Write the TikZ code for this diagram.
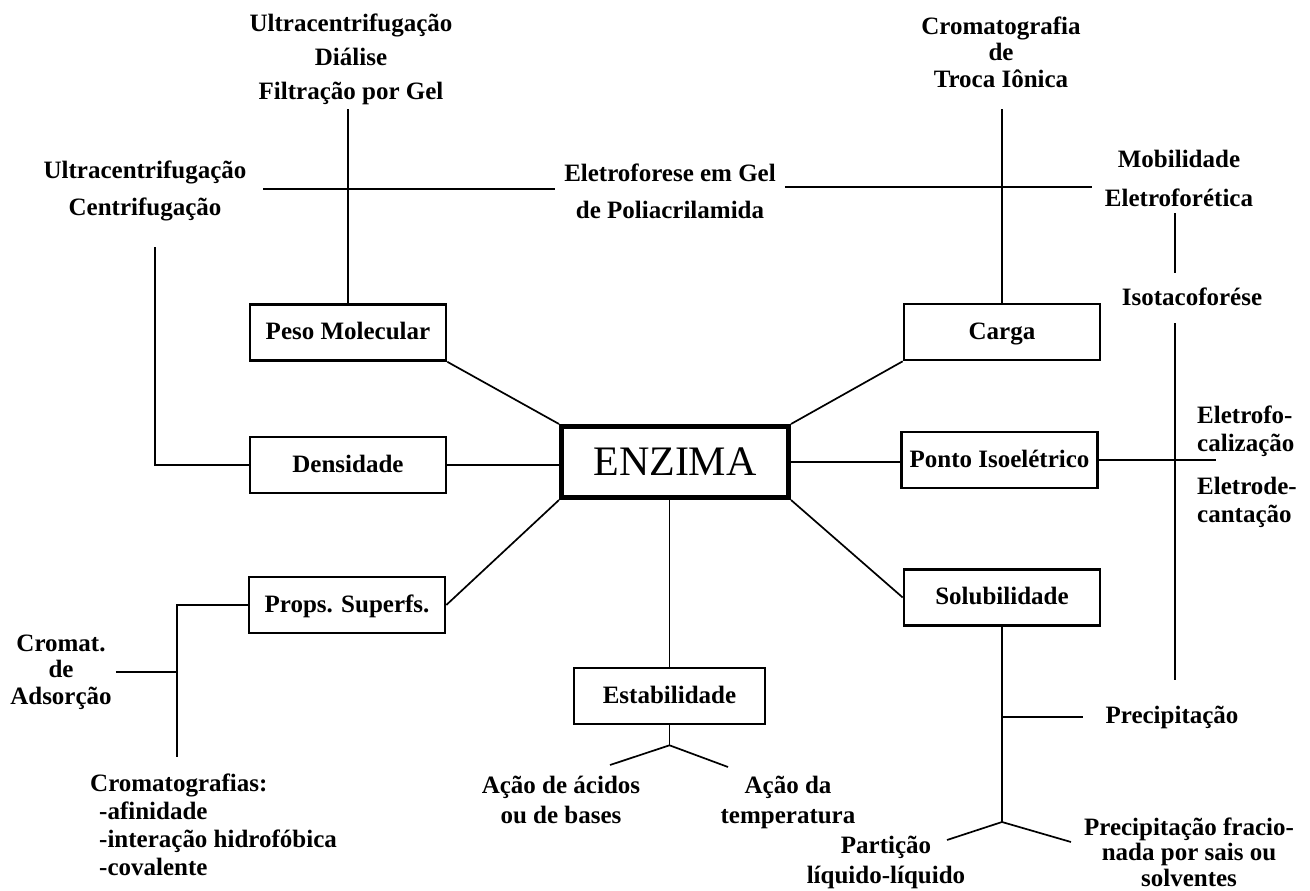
\documentclass[tikz,border=0pt]{standalone}
\usepackage{fontspec}
\setmainfont{Liberation Serif}
\usetikzlibrary{positioning}

\begin{document}
\begin{tikzpicture}
[
    x=1pt, y=-1pt, on grid,
    prop_box/.style={rectangle, draw=black, line width=2.6pt, minimum width=196pt, minimum height=56pt, inner sep=1pt, text height=16pt, text depth=2pt, font=\fontsize{25}{27}\selectfont\bfseries},
    main_box/.style={rectangle, draw=black, line width=5pt, minimum width=227pt, minimum height=71pt, inner sep=1pt, font=\fontsize{42}{44}\selectfont},
    leaf/.style={align=center, inner sep=4pt, font=\fontsize{25}{#1}\selectfont\bfseries},
    leaf/.default=27pt,
    link/.style={line width=1.7pt},
]
    \useasboundingbox (0,0) rectangle (1310,891);

    \node[main_box] (enzima) at (675,462) {ENZIMA} ;
    \node[prop_box] (pm) [above left=129.5pt and 327pt of enzima] {Peso Molecular} ;
    \node[prop_box] (dens) [below left=3pt and 327pt of enzima] {Densidade} ;
    \node[prop_box] (props) [below left=143pt and 328pt of enzima] {Props. Superfs.} ;
    \node[prop_box] (carga) [above right=130pt and 327pt of enzima] {Carga} ;
    \node[prop_box] (ponto) [above right=2pt and 324.5pt of enzima] {Ponto Isoelétrico} ;
    \node[prop_box] (sol) [below right=135.5pt and 327pt of enzima] {Solubilidade} ;
    \node[prop_box, minimum width=191pt] (estab) [below left=234pt and 5.5pt of enzima] {Estabilidade} ;

    \node[leaf=34pt] (pmtop) at (351,59) {Ultracentrifugação\\Diálise\\Filtração por Gel} ;
    \node[leaf=37pt] (ultra) at (145,191) {Ultracentrifugação\\Centrifugação} ;
    \node[leaf=37pt, inner xsep=9pt] (eletro) at (670,191) {Eletroforese em Gel\\de Poliacrilamida} ;
    \node[leaf=26.5pt] (troca) at (1001,52) {Cromatografia\\de\\Troca Iônica} ;
    \node[leaf=39pt] (mobil) at (1179,178) {Mobilidade\\Eletroforética} ;
    \node[leaf] (isotaco) at (1192,297) {Isotacoforése} ;
    \node[leaf=28pt, align=left, anchor=west] (focal) at (1193,431) {Eletrofo-\\calização} ;
    \node[leaf=28pt, align=left, anchor=west] (decant) at (1193,502) {Eletrode-\\cantação} ;
    \node[leaf] (precip) at (1172,717) {Precipitação} ;
    \node[leaf=25.5pt] (frac) at (1189,852) {Precipitação fracio-\\nada por sais ou\\solventes} ;
    \node[leaf=30pt] (particao) at (886,862) {Partição\\líquido-líquido} ;
    \node[leaf=30pt] (acidos) at (561,800) {Ação de ácidos\\ou de bases} ;
    \node[leaf=30pt] (temp) at (788,802) {Ação da\\temperatura} ;
    \node[leaf=26.5pt] (adsorc) at (61,672) {Cromat.\\de\\Adsorção} ;
    \node[leaf=28pt, align=left, anchor=west] (crom) at (86,825) {Cromatografias:\\\hspace*{9pt}-afinidade\\\hspace*{9pt}-interação hidrofóbica\\\hspace*{9pt}-covalente} ;

    \coordinate (gel_l) at (263,189) ;
    \coordinate (gel_r) at (1092,187) ;
    \coordinate (ads_bot) at (177,757) ;
    \coordinate (rcol) at (1175,0) ;
    \coordinate (iso_end) at (1216,464) ;
    \coordinate (sol_fork) at (1002,822) ;
    \coordinate (part_end) at (947,840) ;
    \coordinate (frac_end) at (1071,842) ;
    \coordinate (acid_end) at (610,765) ;
    \coordinate (temp_end) at (728,767) ;

    % ligacoes da enzima
    \draw[link] (pm.south east) -- (enzima.north west) ;
    \draw[link] (dens.east) -- (dens.east -| enzima.west) ;
    \draw[link] (props.east) -- (enzima.south west) ;
    \draw[link] (carga.south west) -- (enzima.north east) ;
    \draw[link] (enzima.east) -- (enzima.east -| ponto.west) ;
    \draw[link] (enzima.south east) -- (sol.west) ;
    \draw[link] (enzima.south -| estab.north) -- (estab.north) ;

    % metodos
    \draw[link] (pm.north) -- (pm.north |- pmtop.south) ;
    \draw[link] (gel_l) -- (gel_l -| eletro.west) ;
    \draw[link] (gel_r -| eletro.east) -- (gel_r) ;
    \draw[link] (dens.west) -| ([xshift=10pt, yshift=-22pt]ultra.south) ;
    \draw[link] (props.west) -| (ads_bot) ;
    \draw[link] (adsorc.east) -- (adsorc.east -| ads_bot) ;
    \draw[link, shorten >=17pt] (carga.north) -- (carga.north |- troca.south) ;
    \draw[link, shorten <=3pt, shorten >=11pt] (mobil.south -| rcol) -- (isotaco.north -| rcol) ;
    \draw[link, shorten <=13pt, shorten >=21pt] (isotaco.south -| rcol) -- (precip.north -| rcol) ;
    \draw[link] (ponto.east) -- (ponto.east -| iso_end) ;
    \draw[link] (sol.south) -- (sol_fork) ;
    \draw[link] (part_end) -- (sol_fork) -- (frac_end) ;
    \draw[link, shorten >=18pt] (sol.south |- precip) -- (precip.west) ;
    \draw[link] (estab.south) -- ++(0,20) coordinate (estab_fork) ;
    \draw[link] (acid_end) -- (estab_fork) -- (temp_end) ;
\end{tikzpicture}
\end{document}
